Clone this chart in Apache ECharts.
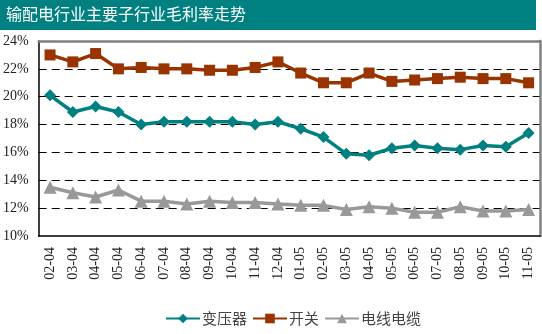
<!DOCTYPE html>
<html><head><meta charset="utf-8">
<script src="https://cdn.jsdelivr.net/npm/echarts@6/dist/echarts.min.js"></script>
<style>html,body{margin:0;padding:0;background:#fff}#c{width:542px;height:334px}</style>
</head><body><div id="c"></div>
<script>
const title = '输配电行业主要子行业毛利率走势';
const categories = ['02-04','03-04','04-04','05-04','06-04','07-04','08-04','09-04','10-04','11-04','12-04',
  '01-05','02-05','03-05','04-05','05-05','06-05','07-05','08-05','09-05','10-05','11-05'];
const transformer = [20.1,18.9,19.3,18.9,18.0,18.2,18.2,18.2,18.2,18.0,18.2,
  17.7,17.1,15.9,15.8,16.3,16.5,16.3,16.2,16.5,16.4,17.4];
const switchgear = [23.0,22.5,23.1,22.0,22.1,22.0,22.0,21.9,21.9,22.1,22.5,
  21.7,21.0,21.0,21.7,21.1,21.2,21.3,21.4,21.3,21.3,21.0];
const cable = [13.5,13.1,12.8,13.3,12.5,12.5,12.3,12.5,12.4,12.4,12.3,
  12.2,12.2,11.9,12.1,12.0,11.7,11.7,12.1,11.8,11.8,11.9];
const seriesNames = ['变压器','开关','电线电缆'];
const yTicks = {min:10, max:24, interval:2};

const serif = '"Liberation Serif","DejaVu Serif",serif';
const chart = echarts.init(document.getElementById('c'));
chart.setOption({
  animation:false,
  graphic:[
    {type:'rect', shape:{x:0,y:0,width:536,height:30}, style:{fill:'#008080'}, z:0},
    {type:'text', left:6, top:6, style:{text:title, fill:'#fff', font:'16px "Noto Sans CJK SC"'}}
  ],
  grid:{left:35, right:2, top:41, bottom:98, containLabel:false},
  legend:{
    left:160, bottom:3, itemWidth:34, itemHeight:12, itemGap:5,
    textStyle:{fontSize:15, color:'#444', fontFamily:'"Noto Sans CJK SC"', padding:[0,0,0,-3]},
    data:seriesNames
  },
  xAxis:[{
    type:'category', data:categories, boundaryGap:true,
    axisLine:{lineStyle:{color:'#000', width:1.5}},
    axisTick:{inside:true, length:5, lineStyle:{color:'#000'}},
    axisLabel:{rotate:90, fontSize:14, color:'#222', fontFamily:serif, margin:11, interval:0}
  },{
    type:'category', data:categories, position:'top', boundaryGap:true,
    axisLine:{lineStyle:{color:'#808080', width:2.5}}, axisTick:{show:false}, axisLabel:{show:false}
  }],
  yAxis:[{
    type:'value', min:yTicks.min, max:yTicks.max, interval:yTicks.interval,
    axisLine:{show:true, lineStyle:{color:'#000', width:1.5}},
    axisTick:{show:false},
    axisLabel:{formatter:'{value}%', fontSize:14, color:'#222', fontFamily:serif, margin:10},
    splitLine:{show:true, showMinLine:false, showMaxLine:false, lineStyle:{color:'#000', type:[8,5], width:1}}
  },{
    type:'value', min:yTicks.min, max:yTicks.max, interval:yTicks.interval, position:'right',
    axisLine:{show:true, lineStyle:{color:'#808080', width:2.5}}, axisTick:{show:false}, axisLabel:{show:false},
    splitLine:{show:false}
  }],
  series:[
    {name:seriesNames[0], type:'line', data:transformer, symbol:'diamond', symbolSize:12,
      itemStyle:{color:'#008080'}, lineStyle:{color:'#008080', width:3.5}},
    {name:seriesNames[1], type:'line', data:switchgear, symbol:'rect', symbolSize:11,
      itemStyle:{color:'#993300'}, lineStyle:{color:'#993300', width:3.5}},
    {name:seriesNames[2], type:'line', data:cable, symbol:'triangle', symbolSize:13,
      itemStyle:{color:'#999999'}, lineStyle:{color:'#999999', width:3.5}}
  ]
});
</script></body></html>
